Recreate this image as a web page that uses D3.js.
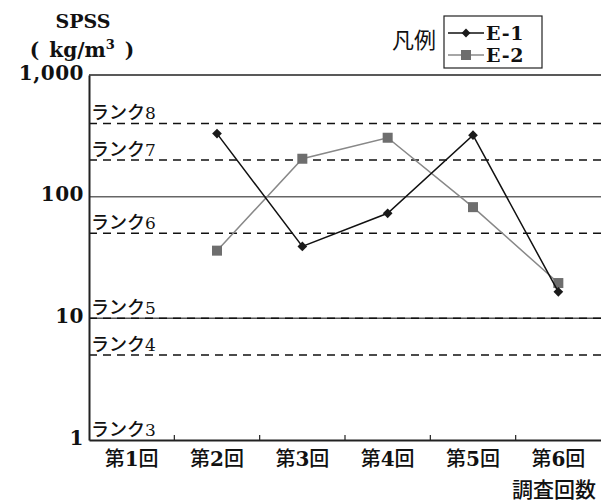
<!DOCTYPE html>
<html>
<head>
<meta charset="utf-8">
<script src="https://cdn.jsdelivr.net/npm/d3@7"></script>
<style>
  body { margin: 0; background: #fff; }
  svg { display: block; }
</style>
</head>
<body>
<svg></svg>
<script>
let categories = ["第1回", "第2回", "第3回", "第4回", "第5回", "第6回"];
let seriesNames = ["E-1", "E-2"];
let e1Values = [null, 330, 39, 73, 320, 16.5];
let e2Values = [null, 36, 205, 305, 82, 19.5];
let yTicks = [1, 10, 100, 1000];
let rankValues = [400, 200, 50, 10, 5, 1];
let rankLabels = ["ランク8", "ランク7", "ランク6", "ランク5", "ランク4", "ランク3"];

let width = 601;
let height = 503;
let plotLeft = 89, plotRight = 601, plotTop = 75, plotBottom = 440;

let serif = "'DejaVu Serif', 'Liberation Serif', serif";
let gothic = "'Noto Sans CJK JP', sans-serif";

let svg = d3.select("svg").attr("width", width).attr("height", height);

let xScale = d3.scaleBand().domain(categories).range([plotLeft, plotRight]);
let yScale = d3.scaleLog().domain([1, 1000]).range([plotBottom, plotTop]);

// solid grid lines at 10 and 100
svg.append("line")
  .attr("x1", plotLeft).attr("x2", plotRight)
  .attr("y1", yScale(100)).attr("y2", yScale(100))
  .attr("stroke", "#666").attr("stroke-width", 1.5);
svg.append("line")
  .attr("x1", plotLeft).attr("x2", plotRight)
  .attr("y1", yScale(10)).attr("y2", yScale(10))
  .attr("stroke", "#555").attr("stroke-width", 1.5);

// rank lines
svg.selectAll(".rank")
  .data(rankValues.filter(v => v > 1))
  .enter()
  .append("line")
  .attr("class", "rank")
  .attr("x1", plotLeft).attr("x2", plotRight)
  .attr("y1", d => yScale(d)).attr("y2", d => yScale(d))
  .attr("stroke", "#111").attr("stroke-width", 1.5)
  .attr("stroke-dasharray", "8,6");

let rankText = svg.selectAll(".rank-label")
  .data(rankValues)
  .enter()
  .append("text")
  .attr("class", "rank-label")
  .attr("x", plotLeft + 2)
  .attr("y", d => yScale(d) - 4)
  .attr("fill", "#111");
rankText.append("tspan")
  .style("font-family", gothic)
  .style("font-weight", "500")
  .style("font-size", "18px")
  .text((d, i) => rankLabels[i].slice(0, 3));
rankText.append("tspan")
  .style("font-family", serif)
  .style("font-size", "17px")
  .text((d, i) => rankLabels[i].slice(3));

// frame: top line, left and bottom axes
svg.append("line")
  .attr("x1", plotLeft).attr("x2", plotRight).attr("y1", plotTop).attr("y2", plotTop)
  .attr("stroke", "#222").attr("stroke-width", 1.5);

let yAxis = d3.axisLeft(yScale)
  .tickValues(yTicks)
  .tickFormat(d3.format(","))
  .tickSize(0)
  .tickPadding(5);
let yG = svg.append("g")
  .attr("transform", "translate(" + plotLeft + ",0)")
  .call(yAxis);
yG.select(".domain").attr("stroke", "#222").attr("stroke-width", 2);
yG.selectAll("text")
  .attr("dy", "0.2em")
  .style("font-family", serif)
  .style("font-weight", "bold")
  .style("font-size", "20px")
  .style("letter-spacing", "0.5px")
  .attr("fill", "#111");

let xAxis = d3.axisBottom(xScale).tickSize(0).tickPadding(12);
let xG = svg.append("g")
  .attr("transform", "translate(0," + plotBottom + ")")
  .call(xAxis);
xG.select(".domain").attr("stroke", "#222").attr("stroke-width", 2);
xG.selectAll("text").each(function(d) {
  let t = d3.select(this).text("").attr("fill", "#111").style("font-size", "20px");
  t.append("tspan").style("font-family", gothic).style("font-weight", "500").text(d.slice(0, 1));
  t.append("tspan").style("font-family", serif).style("font-weight", "bold").style("font-size", "20px").text(d.slice(1, -1));
  t.append("tspan").style("font-family", gothic).style("font-weight", "500").text(d.slice(-1));
});

// inward tick marks at band boundaries
svg.selectAll(".xtick")
  .data(categories.slice(1))
  .enter()
  .append("line")
  .attr("class", "xtick")
  .attr("x1", d => xScale(d)).attr("x2", d => xScale(d))
  .attr("y1", plotBottom).attr("y2", plotBottom - 5)
  .attr("stroke", "#222").attr("stroke-width", 1.2);

// series
let line = d3.line()
  .defined(d => d.v != null)
  .x(d => xScale(d.c) + xScale.bandwidth() / 2)
  .y(d => yScale(d.v));

let e2Data = categories.map((c, i) => ({ c: c, v: e2Values[i] }));
let e1Data = categories.map((c, i) => ({ c: c, v: e1Values[i] }));

svg.append("path")
  .datum(e2Data)
  .attr("d", line)
  .attr("fill", "none")
  .attr("stroke", "#888")
  .attr("stroke-width", 1.5);
svg.selectAll(".e2pt")
  .data(e2Data.filter(d => d.v != null))
  .enter()
  .append("rect")
  .attr("class", "e2pt")
  .attr("x", d => xScale(d.c) + xScale.bandwidth() / 2 - 5)
  .attr("y", d => yScale(d.v) - 5)
  .attr("width", 10).attr("height", 10)
  .attr("fill", "#6e6e6e");

svg.append("path")
  .datum(e1Data)
  .attr("d", line)
  .attr("fill", "none")
  .attr("stroke", "#111")
  .attr("stroke-width", 1.5);
svg.selectAll(".e1pt")
  .data(e1Data.filter(d => d.v != null))
  .enter()
  .append("path")
  .attr("class", "e1pt")
  .attr("d", d3.symbol(d3.symbolDiamond2, 60))
  .attr("transform", d => "translate(" + (xScale(d.c) + xScale.bandwidth() / 2) + "," + yScale(d.v) + ")")
  .attr("fill", "#1a1a1a");

// y title
svg.append("text")
  .attr("x", 83).attr("y", 28)
  .attr("text-anchor", "middle")
  .style("font-family", serif).style("font-weight", "bold").style("font-size", "19px")
  .attr("fill", "#111")
  .text("SPSS");
let unit = svg.append("text")
  .attr("x", 82).attr("y", 57)
  .attr("text-anchor", "middle")
  .style("font-family", serif).style("font-weight", "bold").style("font-size", "20px")
  .attr("fill", "#111");
unit.append("tspan").text("(\u2002kg/m");
unit.append("tspan").attr("dy", -8).style("font-size", "13px").text("3");
unit.append("tspan").attr("dy", 8).text("\u2002)");

// x title
svg.append("text")
  .attr("x", 596).attr("y", 497)
  .attr("text-anchor", "end")
  .style("font-family", gothic).style("font-weight", "500").style("font-size", "21px")
  .attr("fill", "#111")
  .text("調査回数");

// legend
svg.append("text")
  .attr("x", 392).attr("y", 48)
  .style("font-family", gothic).style("font-size", "22px")
  .attr("fill", "#111")
  .text("凡例");
svg.append("rect")
  .attr("x", 444).attr("y", 16)
  .attr("width", 98).attr("height", 52)
  .attr("fill", "none").attr("stroke", "#222").attr("stroke-width", 1.2);

let legendY = [33, 55];
let legendColors = ["#111", "#888"];
seriesNames.forEach((name, i) => {
  svg.append("line")
    .attr("x1", 448).attr("x2", 484)
    .attr("y1", legendY[i]).attr("y2", legendY[i])
    .attr("stroke", legendColors[i]).attr("stroke-width", 1.5);
  if (i == 0) {
    svg.append("path")
      .attr("d", d3.symbol(d3.symbolDiamond2, 50))
      .attr("transform", "translate(466," + legendY[i] + ")")
      .attr("fill", "#1a1a1a");
  } else {
    svg.append("rect")
      .attr("x", 461).attr("y", legendY[i] - 5)
      .attr("width", 10).attr("height", 10)
      .attr("fill", "#6e6e6e");
  }
  svg.append("text")
    .attr("x", 486).attr("y", legendY[i] + 7)
    .style("font-family", serif).style("font-weight", "bold").style("font-size", "19px")
    .style("letter-spacing", "0.8px")
    .attr("fill", "#111")
    .text(name);
});
</script>
</body>
</html>
